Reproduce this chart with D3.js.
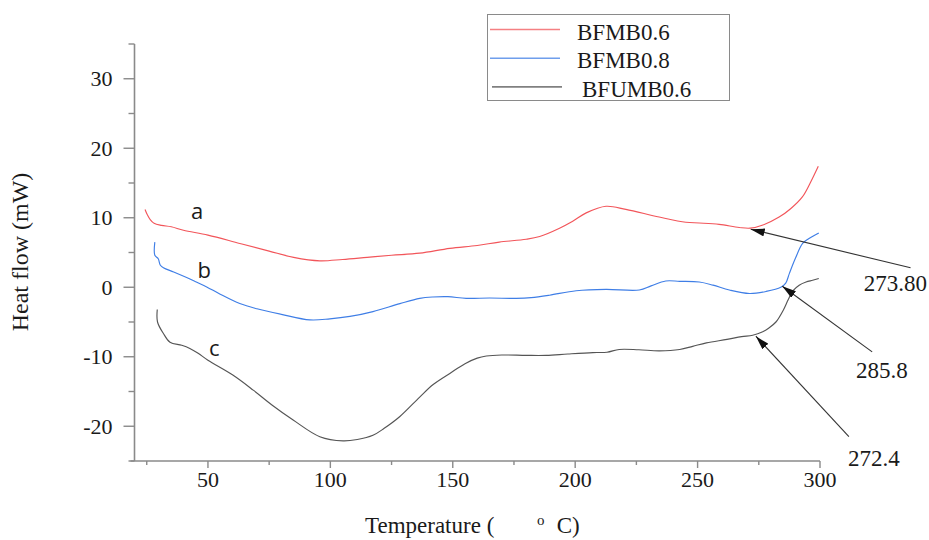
<!DOCTYPE html>
<html>
<head>
<meta charset="utf-8">
<script src="https://cdn.jsdelivr.net/npm/d3@7/dist/d3.min.js"></script>
<style>
  body { margin: 0; background: #fff; }
  svg { display: block; }
</style>
</head>
<body>
<svg id="chart" width="929" height="540"></svg>
<script>
// ---- data ----
var seriesNames = ["BFMB0.6", "BFMB0.8", "BFUMB0.6"];
var seriesColors = ["#f2555a", "#3f7ee6", "#555555"];
var curveTags = ["a", "b", "c"];

// BFMB0.6 (a)
var tempA = [24.3, 25.3, 26.5, 28, 31, 35, 40, 50, 63, 75, 85, 95.7, 105, 115, 125, 136.5, 148.8, 160, 169, 180, 185.5, 193.6, 199, 204.5, 212.6, 220.7, 234.3, 245.2, 250.7, 258.8, 267, 271.5, 277, 283.3, 288, 292.8, 296, 299.3];
var flowA = [11.2, 10.4, 9.7, 9.2, 8.9, 8.7, 8.2, 7.5, 6.3, 5.2, 4.3, 3.8, 4.0, 4.3, 4.6, 4.9, 5.6, 6.0, 6.5, 6.9, 7.3, 8.5, 9.5, 10.7, 11.65, 11.2, 10.1, 9.35, 9.25, 9.05, 8.6, 8.5, 9.0, 10.1, 11.3, 13.0, 15.0, 17.4];

// BFMB0.8 (b)
var tempB = [28.3, 28.3, 29.7, 30.5, 31.8, 36, 41.3, 45, 49.5, 55, 63, 70, 80, 91.6, 99.8, 108, 117.4, 128.4, 136.5, 141.8, 148, 155.5, 165, 175.9, 182, 189.5, 200.4, 212.6, 226.2, 231, 237, 242.7, 250.7, 256.3, 263, 271.2, 278, 284, 286, 287.5, 290, 292.9, 295.5, 299.5];
var flowB = [6.5, 4.6, 4.1, 3.2, 2.8, 2.2, 1.4, 0.8, 0.05, -1.0, -2.35, -3.1, -3.9, -4.7, -4.55, -4.2, -3.5, -2.35, -1.6, -1.4, -1.35, -1.6, -1.55, -1.6, -1.5, -1.15, -0.5, -0.3, -0.4, 0.2, 0.9, 0.85, 0.75, 0.3, -0.4, -0.9, -0.6, 0.0, 0.6, 2.0, 4.2, 6.3, 7.0, 7.8];

// BFUMB0.6 (c)
var tempC = [29.3, 29.4, 31.8, 34.5, 39.3, 42.6, 46, 50, 60, 68.5, 76, 84.8, 95.7, 105.2, 111, 117.4, 122, 128.4, 136.5, 142, 148.8, 155, 160, 163.7, 170, 180, 188.2, 197, 207.2, 213, 218, 226, 234.4, 242.7, 248, 253.6, 262, 268, 272.5, 276.6, 279, 282, 285, 287, 289, 291.5, 294.3, 297, 299.5];
var flowC = [-3.2, -5.0, -6.65, -7.9, -8.35, -8.8, -9.5, -10.5, -12.6, -14.8, -16.9, -19.1, -21.5, -22.1, -21.9, -21.3, -20.3, -18.6, -15.8, -14.0, -12.4, -11.0, -10.2, -9.9, -9.75, -9.8, -9.8, -9.6, -9.4, -9.35, -8.95, -9.0, -9.15, -8.95, -8.5, -8.0, -7.5, -7.1, -6.9, -6.4, -5.9, -5.0, -3.3, -1.8, -0.5, 0.3, 0.75, 1.0, 1.25];

var xTicks = [50, 100, 150, 200, 250, 300];
var yTicks = [-20, -10, 0, 10, 20, 30];

// onset annotations: label, arrow tip (T, flow), arrow tail (T, flow), label anchor (T, flow)
var noteLabels = ["273.80", "285.8", "272.4"];
var noteTip = [[271.7, 8.35], [284.6, 0.14], [273.8, -7.05]];
var noteTail = [[337, 2.8], [321.3, -9.3], [311.8, -21.5]];
var noteAt = [[317.9, 0.6], [314.7, -11.9], [311.4, -24.5]];

// curve tag anchors (T, flow)
var tagAt = [[45.6, 10.9], [48.5, 2.4], [52.6, -8.8]];

// ---- drawing ----
var svg = d3.select("#chart");
var serif = "'Liberation Serif', 'Times New Roman', Times, serif";

var x = d3.scaleLinear().domain([20, 300]).range([134.5, 820]);
var y = d3.scaleLinear().domain([-25, 35]).range([461, 44]);

var axisColor = "#8a8a8a";

// y axis
var yAxis = svg.append("g").attr("class", "y-axis");
yAxis.append("line")
    .attr("x1", x(20)).attr("x2", x(20))
    .attr("y1", y(35)).attr("y2", y(-25))
    .style("stroke", axisColor).style("stroke-width", 1.6);

yAxis.selectAll("line.minor")
    .data(d3.range(-25, 36, 5).filter(function(d) { return d % 10 != 0; }))
    .enter().append("line")
    .attr("class", "minor")
    .attr("x1", x(20) - 6).attr("x2", x(20))
    .attr("y1", function(d) { return y(d); }).attr("y2", function(d) { return y(d); })
    .style("stroke", axisColor).style("stroke-width", 1.4);

yAxis.selectAll("line.major")
    .data(yTicks)
    .enter().append("line")
    .attr("class", "major")
    .attr("x1", x(20) - 11).attr("x2", x(20))
    .attr("y1", function(d) { return y(d); }).attr("y2", function(d) { return y(d); })
    .style("stroke", axisColor).style("stroke-width", 1.4);

yAxis.selectAll("text")
    .data(yTicks)
    .enter().append("text")
    .attr("x", x(20) - 22)
    .attr("y", function(d) { return y(d); })
    .attr("dy", "0.35em")
    .attr("text-anchor", "end")
    .style("font-family", serif).style("font-size", "22px").style("fill", "#1a1a1a")
    .text(function(d) { return d; });

// x axis
var xAxis = svg.append("g").attr("class", "x-axis");
xAxis.append("line")
    .attr("x1", x(20) - 4).attr("x2", x(300))
    .attr("y1", y(-25)).attr("y2", y(-25))
    .style("stroke", axisColor).style("stroke-width", 1.6);

xAxis.selectAll("line.tick")
    .data(d3.range(25, 301, 25))
    .enter().append("line")
    .attr("class", "tick")
    .attr("x1", function(d) { return x(d); }).attr("x2", function(d) { return x(d); })
    .attr("y1", y(-25))
    .attr("y2", function(d) { return y(-25) + (d % 50 == 0 ? 7 : 4); })
    .style("stroke", axisColor).style("stroke-width", 1.4);

xAxis.selectAll("text")
    .data(xTicks)
    .enter().append("text")
    .attr("x", function(d) { return x(d); })
    .attr("y", 479)
    .attr("dy", "0.35em")
    .attr("text-anchor", "middle")
    .style("font-family", serif).style("font-size", "22px").style("fill", "#1a1a1a")
    .text(function(d) { return d; });

// axis titles
svg.append("text")
    .attr("transform", "translate(28,252) rotate(-90)")
    .attr("text-anchor", "middle")
    .style("font-family", serif).style("font-size", "24px").style("fill", "#1a1a1a")
    .text("Heat flow (mW)");

var xt = svg.append("text").attr("y", 533)
    .style("font-family", serif).style("font-size", "23px").style("fill", "#1a1a1a");
xt.append("tspan").attr("x", 365).text("Temperature (");
xt.append("tspan").attr("x", 537).attr("dy", -8).style("font-size", "15px").text("o");
xt.append("tspan").attr("x", 551).attr("dy", 8).text(" C)");

// curves
var series = [
    d3.zip(tempA, flowA),
    d3.zip(tempB, flowB),
    d3.zip(tempC, flowC)
];

var line = d3.line()
    .x(function(d) { return x(d[0]); })
    .y(function(d) { return y(d[1]); })
    .curve(d3.curveCatmullRom.alpha(0.5));

svg.append("g").attr("class", "curves")
    .selectAll("path")
    .data(series)
    .enter().append("path")
    .attr("d", line)
    .style("fill", "none")
    .style("stroke", function(d, i) { return seriesColors[i]; })
    .style("stroke-width", 1.15);

// curve tags a, b, c
svg.append("g").selectAll("text")
    .data(tagAt)
    .enter().append("text")
    .attr("x", function(d) { return x(d[0]); })
    .attr("y", function(d) { return y(d[1]); })
    .attr("dy", "0.35em")
    .attr("text-anchor", "middle")
    .style("font-family", "'Open Sans', sans-serif").style("font-size", "22px").style("fill", "#1a1a1a")
    .text(function(d, i) { return curveTags[i]; });

// arrows
svg.append("defs").append("marker")
    .attr("id", "arrowhead")
    .attr("viewBox", "0 0 14 8")
    .attr("refX", 14).attr("refY", 4)
    .attr("markerWidth", 14).attr("markerHeight", 8)
    .attr("markerUnits", "userSpaceOnUse")
    .attr("orient", "auto")
    .append("path")
    .attr("d", "M0,0 L14,4 L0,8 Z")
    .style("fill", "#111");

var notes = svg.append("g").attr("class", "notes");
notes.selectAll("line")
    .data(noteTip)
    .enter().append("line")
    .attr("x1", function(d, i) { return x(noteTail[i][0]); })
    .attr("y1", function(d, i) { return y(noteTail[i][1]); })
    .attr("x2", function(d) { return x(d[0]); })
    .attr("y2", function(d) { return y(d[1]); })
    .style("stroke", "#333")
    .style("stroke-width", 1.1)
    .attr("marker-end", "url(#arrowhead)");

notes.selectAll("text")
    .data(noteAt)
    .enter().append("text")
    .attr("x", function(d) { return x(d[0]); })
    .attr("y", function(d) { return y(d[1]); })
    .attr("dy", "0.35em")
    .style("font-family", serif).style("font-size", "23px").style("fill", "#1a1a1a")
    .text(function(d, i) { return noteLabels[i]; });

// legend
var legend = svg.append("g").attr("class", "legend");
legend.append("rect")
    .attr("x", 487.5).attr("y", 14.5)
    .attr("width", 242).attr("height", 86)
    .style("fill", "#fff")
    .style("stroke", "#8a8a8a")
    .style("stroke-width", 1);

var rows = legend.selectAll("g.row")
    .data(seriesNames)
    .enter().append("g")
    .attr("class", "row")
    .attr("transform", function(d, i) { return "translate(490," + (29.5 + i * 28.7) + ")"; });

rows.append("line")
    .attr("x1", function(d, i) { return i == 2 ? 2 : 0; })
    .attr("x2", function(d, i) { return i == 2 ? 72 : 70; })
    .style("stroke", function(d, i) { return seriesColors[i]; })
    .style("stroke-opacity", 0.75)
    .style("stroke-width", 1.6);

rows.append("text")
    .attr("x", function(d, i) { return i == 2 ? 92 : 87; })
    .attr("y", 2)
    .attr("dy", "0.35em")
    .style("font-family", serif).style("font-size", "23px").style("fill", "#1a1a1a")
    .text(function(d) { return d; });
</script>
</body>
</html>
